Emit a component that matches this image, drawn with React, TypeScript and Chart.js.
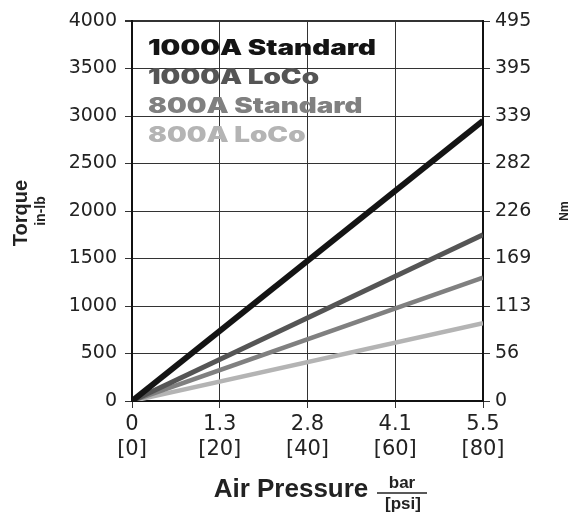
import React, { useEffect, useRef } from "react";
import { Chart, registerables } from "chart.js";

Chart.register(...registerables);

// ---- data ----
const psiValues = [0, 80];
const barTickLabels = ["0", "1.3", "2.8", "4.1", "5.5"];
const psiTickLabels = ["[0]", "[20]", "[40]", "[60]", "[80]"];
const nmTickLabels = ["0", "56", "113", "169", "226", "282", "339", "395", "495"];
const seriesNames = ["1000A Standard", "1000A LoCo", "800A Standard", "800A LoCo"];
const torque1000Std = [0, 2950];
const torque1000LoCo = [0, 1750];
const torque800Std = [0, 1300];
const torque800LoCo = [0, 820];
const seriesColors = ["#141414", "#555555", "#808080", "#b4b4b4"];
const seriesWidths = [6, 5, 4.5, 4.5];

const Y_TICK_FONT = { family: "'DejaVu Sans', sans-serif", size: 19 };
const X_TICK_FONT = { family: "'DejaVu Sans', sans-serif", size: 21, lineHeight: 1.2 };

const overlayPlugin = {
  id: "overlay",
  afterDraw(chart: any) {
    const ctx = chart.ctx as CanvasRenderingContext2D;
    const area = chart.chartArea;
    ctx.save();
    // legend inside plot
    ctx.font = "900 21px Inter, 'Liberation Sans', sans-serif";
    const ref = ctx.measureText(seriesNames[0]).width;
    const sx = 228 / ref;
    const baseX = area.left + 16;
    const baselines = [55, 84, 113, 142];
    chart.data.datasets.forEach((ds: any, i: number) => {
      ctx.save();
      ctx.translate(baseX, baselines[i]);
      ctx.scale(sx, 1);
      ctx.fillStyle = ds.borderColor;
      ctx.textAlign = "left";
      ctx.textBaseline = "alphabetic";
      ctx.fillText(ds.label, 0, 0);
      ctx.restore();
    });

    // left axis title
    const midY = 213;
    ctx.fillStyle = "#222";
    ctx.textAlign = "center";
    ctx.textBaseline = "middle";
    ctx.save();
    ctx.translate(21, midY);
    ctx.rotate(-Math.PI / 2);
    ctx.font = "bold 20px 'Liberation Sans', Arial, sans-serif";
    ctx.fillText("Torque", 0, 0);
    ctx.restore();
    ctx.save();
    ctx.translate(41, midY - 2);
    ctx.rotate(-Math.PI / 2);
    ctx.font = "bold 14px 'Liberation Sans', Arial, sans-serif";
    ctx.fillText("in-lb", 0, 0);
    ctx.restore();

    // right axis title
    ctx.save();
    ctx.translate(565, midY - 2);
    ctx.rotate(-Math.PI / 2);
    ctx.font = "bold 12px 'Liberation Sans', Arial, sans-serif";
    ctx.fillText("Nm", 0, 0);
    ctx.restore();

    // x axis title
    ctx.font = "bold 26px 'Liberation Sans', Arial, sans-serif";
    ctx.textAlign = "center";
    ctx.textBaseline = "alphabetic";
    ctx.fillText("Air Pressure", 291, 497);
    ctx.font = "bold 17px 'Liberation Sans', Arial, sans-serif";
    ctx.fillText("bar", 402, 488);
    ctx.fillText("[psi]", 403, 509);
    ctx.strokeStyle = "#222";
    ctx.lineWidth = 1.5;
    ctx.beginPath();
    ctx.moveTo(377, 493);
    ctx.lineTo(427, 493);
    ctx.stroke();
    ctx.restore();
  },
};

export default function App() {
  const canvasRef = useRef<HTMLCanvasElement | null>(null);

  useEffect(() => {
    if (!canvasRef.current) return;
    const seriesValues = [torque1000Std, torque1000LoCo, torque800Std, torque800LoCo];
    const chart = new Chart(canvasRef.current, {
      type: "line",
      data: {
        datasets: seriesNames.map((name, i) => ({
          label: name,
          data: psiValues.map((p, j) => ({ x: p, y: seriesValues[i][j] })),
          borderColor: seriesColors[i],
          backgroundColor: seriesColors[i],
          borderWidth: seriesWidths[i],
          pointRadius: 0,
          borderCapStyle: "butt",
          fill: false,
          tension: 0,
          yAxisID: "y",
        })),
      },
      options: {
        animation: false,
        responsive: true,
        maintainAspectRatio: false,
        layout: { padding: { top: 21, left: 0, right: 0, bottom: 0 } },
        plugins: { legend: { display: false }, tooltip: { enabled: false } },
        scales: {
          x: {
            type: "linear",
            position: "bottom",
            min: 0,
            max: 80,
            ticks: {
              stepSize: 20,
              autoSkip: false,
              maxRotation: 0,
              padding: 4,
              color: "#222",
              font: X_TICK_FONT,
              callback: (v: any) => {
                const i = psiTickLabels.indexOf(`[${v}]`);
                return i >= 0 ? [barTickLabels[i], psiTickLabels[i]] : "";
              },
            },
            grid: { color: "#333", lineWidth: 1, tickLength: 7, tickColor: "#333" },
            border: { color: "#111", width: 2 },
            afterFit: (s: any) => {
              s.height = 111;
            },
          },
          y: {
            position: "left",
            min: 0,
            max: 4000,
            ticks: {
              stepSize: 500,
              padding: 8,
              color: "#222",
              font: Y_TICK_FONT,
              callback: (v: any) => String(v),
            },
            grid: {
              color: "#333",
              lineWidth: (c: any) => (c.tick && c.tick.value === 4000 ? 2 : 1),
              tickLength: 7,
              tickColor: "#333",
            },
            border: { color: "#111", width: 2 },
            afterFit: (s: any) => {
              s.width = 132;
            },
          },
          y2: {
            position: "right",
            min: 0,
            max: 4000,
            ticks: {
              stepSize: 500,
              padding: 5,
              color: "#222",
              font: Y_TICK_FONT,
              callback: (v: any) => nmTickLabels[Math.round(Number(v) / 500)] ?? "",
            },
            grid: { drawOnChartArea: false, tickLength: 7, tickColor: "#333" },
            border: { color: "#111", width: 2 },
            afterFit: (s: any) => {
              s.width = 95;
            },
          },
        },
      } as any,
      plugins: [overlayPlugin],
    });
    return () => chart.destroy();
  }, []);

  return (
    <div style={{ position: "fixed", left: 0, top: 0, width: 578, height: 512, background: "#fff" }}>
      <canvas ref={canvasRef} />
    </div>
  );
}
